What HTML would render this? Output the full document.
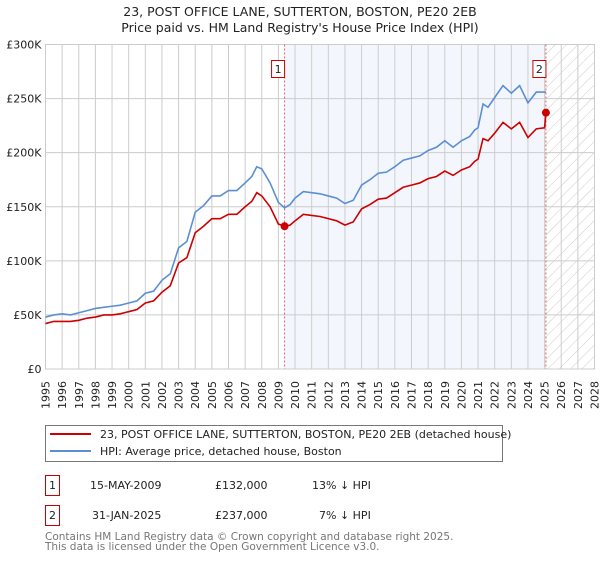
<!DOCTYPE html>
<html><head><meta charset="utf-8">
<style>
body{margin:0;background:#fff;width:600px;height:560px;overflow:hidden;font-family:"DejaVu Sans","Liberation Sans",sans-serif;}
svg text{font-family:"DejaVu Sans","Liberation Sans",sans-serif;}
</style></head>
<body>
<svg id="chart" width="600" height="560" xmlns="http://www.w3.org/2000/svg">
<defs>
<pattern id="hatch" patternUnits="userSpaceOnUse" width="8" height="8" patternTransform="rotate(45)">
<line x1="0" y1="0" x2="0" y2="8" stroke="#ccc" stroke-width="1"/>
</pattern>
</defs>
<text x="300" y="16" text-anchor="middle" font-size="12.5" fill="#222">23, POST OFFICE LANE, SUTTERTON, BOSTON, PE20 2EB</text>
<text x="300" y="32" text-anchor="middle" font-size="12.5" fill="#222">Price paid vs. HM Land Registry's House Price Index (HPI)</text>
<g id="plot"></g>
<g>
<rect x="45.5" y="425.5" width="457" height="36" fill="#fff" stroke="#777"/>
<line x1="50" y1="434" x2="91" y2="434" stroke="#cc0000" stroke-width="2"/>
<text x="100" y="438" font-size="11" fill="#222">23, POST OFFICE LANE, SUTTERTON, BOSTON, PE20 2EB (detached house)</text>
<line x1="50" y1="451" x2="91" y2="451" stroke="#5b8fd4" stroke-width="2"/>
<text x="100" y="455" font-size="11" fill="#222">HPI: Average price, detached house, Boston</text>
</g>
<g font-size="11" fill="#222">
<rect x="45.5" y="475.5" width="14" height="20" fill="#fff" stroke="#cc0000"/>
<text x="52.5" y="489" text-anchor="middle">1</text>
<text x="90" y="489">15-MAY-2009</text>
<text x="215" y="489">£132,000</text>
<text x="312" y="489">13% ↓ HPI</text>
<rect x="45.5" y="505.5" width="14" height="20" fill="#fff" stroke="#cc0000"/>
<text x="52.5" y="519" text-anchor="middle">2</text>
<text x="92" y="519">31-JAN-2025</text>
<text x="215" y="519">£237,000</text>
<text x="319" y="519">7% ↓ HPI</text>
</g>
<text x="45" y="540" font-size="10.5" fill="#777">Contains HM Land Registry data © Crown copyright and database right 2025.</text>
<text x="45" y="550" font-size="10.5" fill="#777">This data is licensed under the Open Government Licence v3.0.</text>
</svg>
<script>
const hpiYears=[1995,1995.5,1996,1996.5,1997,1997.5,1998,1998.5,1999,1999.5,2000,2000.5,2001,2001.5,2002,2002.5,2003,2003.5,2004,2004.5,2005,2005.5,2006,2006.5,2007,2007.4,2007.7,2008,2008.5,2009,2009.37,2009.7,2010,2010.5,2011,2011.5,2012,2012.5,2013,2013.5,2014,2014.5,2015,2015.5,2016,2016.5,2017,2017.5,2018,2018.5,2019,2019.5,2020,2020.5,2020.8,2021,2021.3,2021.6,2022,2022.5,2023,2023.5,2024,2024.5,2025,2025.08];
const hpiValues=[48,50,51,50,52,54,56,57,58,59,61,63,70,72,82,88,112,118,145,151,160,160,165,165,172,178,187,185,172,154,149,152,158,164,163,162,160,158,153,156,170,175,181,182,187,193,195,197,202,205,211,205,211,215,221,223,245,242,251,262,255,262,246,256,256,256];
const paidYears=[1995,1995.5,1996,1996.5,1997,1997.5,1998,1998.5,1999,1999.5,2000,2000.5,2001,2001.5,2002,2002.5,2003,2003.5,2004,2004.5,2005,2005.5,2006,2006.5,2007,2007.4,2007.7,2008,2008.5,2009,2009.37,2009.7,2010,2010.5,2011,2011.5,2012,2012.5,2013,2013.5,2014,2014.5,2015,2015.5,2016,2016.5,2017,2017.5,2018,2018.5,2019,2019.5,2020,2020.5,2020.8,2021,2021.3,2021.6,2022,2022.5,2023,2023.5,2024,2024.5,2025,2025.08];
const paidValues=[42,44,44,44,45,47,48,50,50,51,53,55,61,63,71,77,98,103,126,132,139,139,143,143,150,155,163,160,150,134,132,133,137,143,142,141,139,137,133,136,148,152,157,158,163,168,170,172,176,178,183,179,184,187,192,194,213,211,218,228,222,228,214,222,223,237];
const saleYears=[2009.37,2025.08];
const saleValues=[132,237];
const saleLabels=["1","2"];
const yTicks=[0,50,100,150,200,250,300];
const yTickLabels=["£0","£50K","£100K","£150K","£200K","£250K","£300K"];
const xTicks=[1995,1996,1997,1998,1999,2000,2001,2002,2003,2004,2005,2006,2007,2008,2009,2010,2011,2012,2013,2014,2015,2016,2017,2018,2019,2020,2021,2022,2023,2024,2025,2026,2027,2028];

const X0=45.5,X1=594.5,Y0=369,Y1=44.5;
const xs=y=>X0+(y-1995)/(2028-1995)*(X1-X0);
const ys=v=>Y0-v/300*(Y0-Y1);
const NS="http://www.w3.org/2000/svg";
const plot=document.getElementById('plot');
function mk(tag,attrs,parent){const e=document.createElementNS(NS,tag);for(const k in attrs)e.setAttribute(k,attrs[k]);(parent||plot).appendChild(e);return e;}

let r=mk('rect',{x:X0,y:Y1,width:X1-X0,height:Y0-Y1,fill:'#fff'});


r=mk('rect',{x:xs(saleYears[0]),y:Y1,width:xs(saleYears[1])-xs(saleYears[0]),height:Y0-Y1,fill:'#eef3fc',opacity:0.7});


r=mk('rect',{x:xs(saleYears[1]),y:Y1,width:X1-xs(saleYears[1]),height:Y0-Y1,fill:'url(#hatch)'});



xTicks.forEach(t=>{
  const l=mk('line',{x1:xs(t),x2:xs(t),y1:Y1,y2:Y0,stroke:'#ccc','stroke-width':1});
  
  
  const px=(xs(t)+4).toFixed(2), py=381;
  const g=mk('g',{transform:'translate('+px+','+py+') rotate(-90)'});
  
  
  const tx=mk('text',{x:0,y:0,'text-anchor':'end','font-size':11,fill:'#222'},g);
  tx.textContent=t;
  
  
});
yTicks.forEach((t,i)=>{
  const l=mk('line',{x1:X0,x2:X1,y1:ys(t),y2:ys(t),stroke:'#ccc','stroke-width':1});
  
  
  const tx=mk('text',{x:X0-4,y:ys(t)+4,'text-anchor':'end','font-size':11,fill:'#222'});
  tx.textContent=yTickLabels[i];
  
  
});
r=mk('rect',{x:X0,y:Y1,width:X1-X0,height:Y0-Y1,fill:'none',stroke:'#ccc'});



saleYears.forEach(y=>{
  const l=mk('line',{x1:xs(y),x2:xs(y),y1:Y1,y2:Y0,stroke:'#e06070','stroke-width':1,'stroke-dasharray':'2,2'});
  
  
});

const hp=mk('polyline',{points:hpiYears.map((y,i)=>xs(y)+','+ys(hpiValues[i])).join(' '),fill:'none',stroke:'#5b8fd4','stroke-width':1.6});


const pp=mk('polyline',{points:paidYears.map((y,i)=>xs(y)+','+ys(paidValues[i])).join(' '),fill:'none',stroke:'#cc0000','stroke-width':1.6});



saleYears.forEach((y,i)=>{
  const c=mk('circle',{cx:xs(y),cy:ys(saleValues[i]),r:4,fill:'#cc0000'});
  
  
  const bx=xs(y)-7-6;
  const b=mk('rect',{x:bx,y:60.5,width:13,height:17,fill:'#fff',stroke:'#cc0000'});
  
  
  const t=mk('text',{x:bx+6.5,y:73,'text-anchor':'middle','font-size':11,fill:'#222'});
  t.textContent=saleLabels[i];
  
  
});
</script>
</body></html>
